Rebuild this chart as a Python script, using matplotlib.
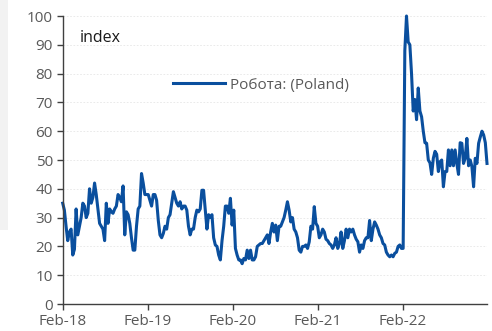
import matplotlib
matplotlib.use("Agg")
import matplotlib.pyplot as plt
import matplotlib.dates as mdates
from matplotlib.patches import Rectangle
import pandas as pd

series_name = "Робота: (Poland)"
axis_note = "index"
tick_labels = ["Feb-18", "Feb-19", "Feb-20", "Feb-21", "Feb-22"]
tick_dates = ["2018-02-01", "2019-02-01", "2020-02-01", "2021-02-01", "2022-02-01"]

values_y1 = [35, 32.6, 27, 22, 25, 26, 17, 19, 33, 24, 27, 30, 35, 34, 30, 31.5, 40, 35, 37, 42,
             38, 33, 28, 27, 26, 22, 35, 28, 33, 32, 31.5, 33, 34, 38, 37, 35.5, 41, 24, 32, 31,
             28, 23, 18.7, 18.7, 27, 33, 34, 45.3, 42, 38, 38]
values_y2 = [38, 36, 34, 38, 38, 36, 29, 24, 23, 24.5, 27, 26, 30, 31, 35, 39, 37, 35, 34, 35.5,
             33, 34, 34, 32.6, 27, 24, 26, 26, 30, 32.6, 32, 33, 39.5, 39.5, 32.6, 26, 31, 30, 31, 23,
             20.5, 20, 17, 15.3, 22, 27, 34, 34, 31.5, 36.7, 27.4]
values_y3 = [32.6, 19.3, 17, 15.3,
             15.3, 14, 15.8, 15.3, 18.7, 15.8, 18.7, 15.3, 15.3, 16.4, 20, 20.5, 21, 21, 22, 23,
             24, 21, 25, 28, 25, 27.4, 22, 27, 27, 28.5, 30, 32.6, 35.5, 32.6, 28.5, 30, 26, 25,
             23, 18.7, 18, 20, 20, 20.5, 19.3, 21.6, 27, 26, 33.8, 28, 27]
values_y4 = [23, 24, 26, 25, 22.5, 22, 21, 20.5, 19.3, 20.5, 23, 19.3, 21, 25, 19.3, 22, 26, 23,
             26, 25, 26, 24, 22.5, 21.6, 18, 20.5, 19.3, 22, 23, 23, 29, 22, 26, 28.5, 27.4, 26,
             24, 23, 21, 20.5, 18, 17, 16.4, 17, 16.4, 17.6, 18, 20, 20.5, 19.3, 19.3]
values_y5 = [88, 100, 91, 90, 80, 67, 71, 64, 75, 67, 65, 60, 56, 55.8, 50, 49, 45, 50.6, 53, 52,
             46, 49.4, 50, 40.7, 46, 46, 53.5, 48, 53.5, 48, 53.5, 48.8, 45, 56, 55.8, 48.8, 50.6,
             57.5, 48, 50, 47.7, 40.7, 50.6, 48.8, 55.8, 58, 60, 58.7, 56, 48.8]

values = values_y1 + values_y2 + values_y3 + values_y4 + values_y5
dates = pd.date_range("2018-02-01", "2023-01-29", periods=len(values))

plt.rcParams["font.family"] = ["Open Sans", "DejaVu Sans"]

fig = plt.figure(figsize=(4.92, 3.31), dpi=100)
fig.patches.append(Rectangle((0, 1 - 230 / 331), 8 / 492, 230 / 331,
                             transform=fig.transFigure, facecolor="#f2f2f2",
                             edgecolor="none", zorder=0))
ax = fig.add_axes([62.7 / 492, 1 - 304 / 331, (487 - 62.7) / 492, 288 / 331])

ax.plot(dates, values, color="#0a4f9e", linewidth=2.2, label=series_name,
        solid_joinstyle="round", clip_on=False)

ax.set_ylim(0, 100)
ax.set_yticks(range(0, 101, 10))
ax.set_xlim(dates[0], dates[-1])
ax.set_xticks(pd.to_datetime(tick_dates))
ax.set_xticklabels(tick_labels)

for s in ["top", "right"]:
    ax.spines[s].set_visible(False)
for s in ["left", "bottom"]:
    ax.spines[s].set_color("#404040")
    ax.spines[s].set_linewidth(1.0)

ax.tick_params(axis="both", direction="out", length=4, width=1, color="#404040",
               labelcolor="#595959", labelsize=11)
ax.tick_params(axis="y", pad=3)
ax.tick_params(axis="x", pad=3)
ax.grid(axis="y", color="#e6e6e6", linestyle=(0, (2, 2)), linewidth=0.6)
ax.set_axisbelow(True)

fig.text(80 / 492, 1 - 38 / 331, axis_note, fontsize=11.5, color="#1a1a1a",
         va="center", ha="left")

ax.legend(loc="center left", bbox_to_anchor=(173 / 492, 1 - 85 / 331),
          bbox_transform=fig.transFigure, frameon=False, borderpad=0,
          borderaxespad=0, handlelength=3.4, handletextpad=0.35,
          fontsize=11, labelcolor="#595959")

fig.savefig("out.png", dpi=100)
